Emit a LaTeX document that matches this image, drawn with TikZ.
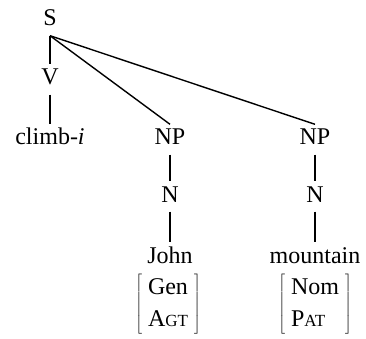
\documentclass[tikz,border=0pt]{standalone}
\usepackage{fontspec}
\setmainfont{Liberation Serif}
\newcommand{\smallcap}[2]{#1{\fontsize{17}{20}\selectfont #2}}
\tikzset{
  cat/.style={inner sep=3pt, text height=17pt, text depth=6pt, font=\fontsize{24}{32}\selectfont},
  feat/.style={inner sep=0pt, font=\fontsize{24}{32}\selectfont}
}
\begin{document}
\begin{tikzpicture}[x=1pt, y=-1pt, line width=1.4pt]
            \useasboundingbox (0,0) rectangle (366,339);

            % Draw the top of the tree
            \node[cat, anchor=base] (S) at (50,26) {S};
            \node[cat, anchor=base] (V) at (50,85) {V};
            \node[cat, anchor=base] (climb) at (50,145) {climb-\textit{i}};

            % Draw the first NP
            \node[cat, anchor=base] (NPa) at (170,145) {NP};
            \node[cat, anchor=base] (Na) at (170,202) {N};
            \node[cat, anchor=base] (john) at (170,263) {John};
            \node[feat] (johnfeat) at (168,304) {$\left[\begin{tabular}{l}Gen\\ \smallcap{A}{GT}\end{tabular}\right]$};

            % Draw the second NP
            \node[cat, anchor=base] (NPb) at (315,145) {NP};
            \node[cat, anchor=base] (Nb) at (315,202) {N};
            \node[cat, anchor=base] (mountain) at (315,263) {mountain};
            \node[feat] (mountainfeat) at (315,304) {$\left[\begin{tabular}{l}Nom\\ \smallcap{P}{AT}\end{tabular}\right]$};

            % Draw the branches
            \draw (S.south) -- (V.north);
            \draw (V.south) -- (climb.north);
            \draw (S.south) -- (NPa.north);
            \draw (S.south) -- (NPb.north);
            \draw (NPa.south) -- (Na.north);
            \draw (Na.south) -- (john.north);
            \draw (NPb.south) -- (Nb.north);
            \draw (Nb.south) -- (mountain.north);
        \end{tikzpicture}
\end{document}
